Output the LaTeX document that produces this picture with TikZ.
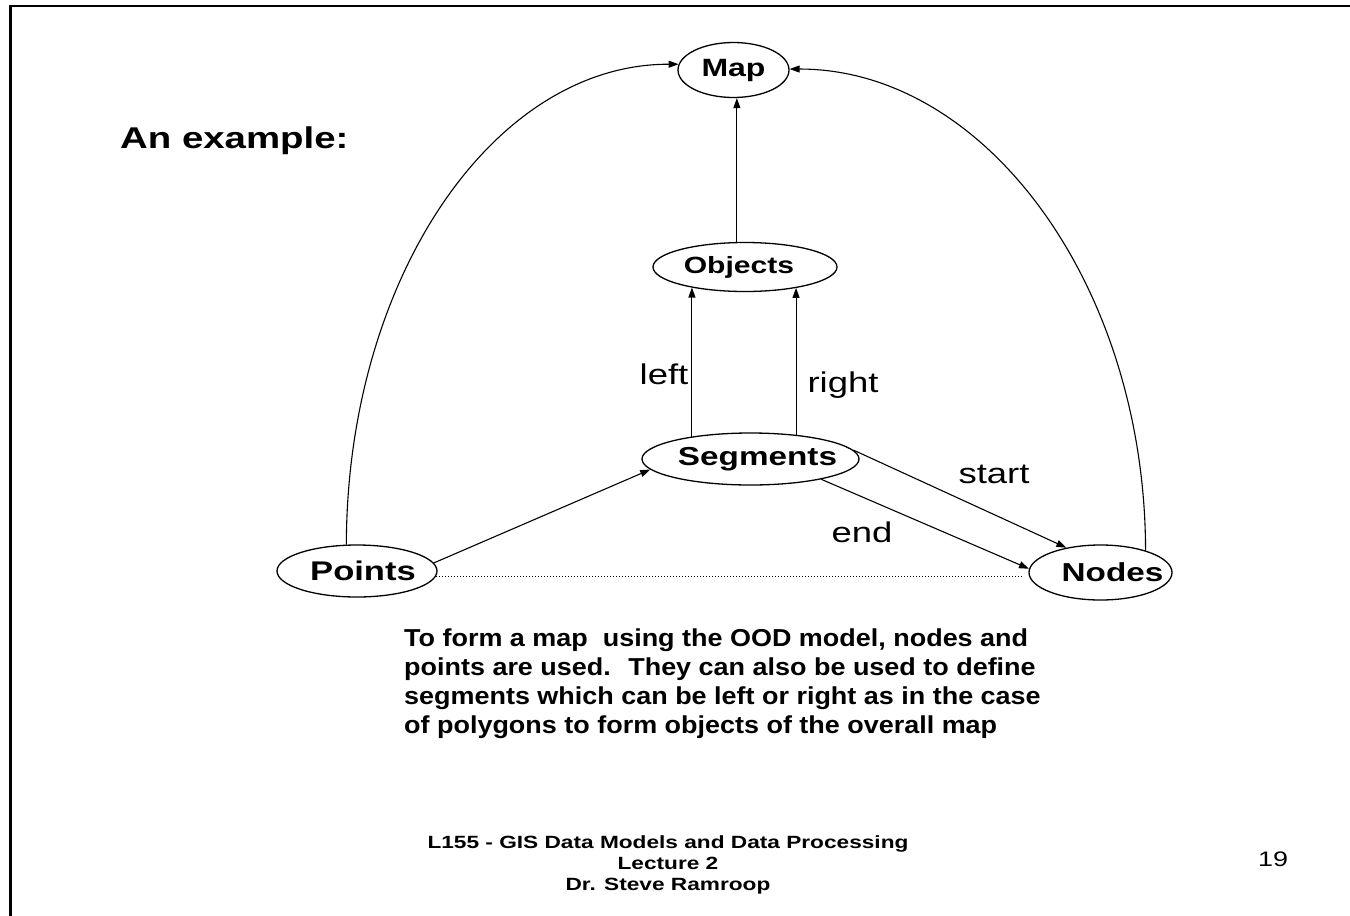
\documentclass[tikz,border=0pt]{standalone}
\usepackage{fontspec}
\setmainfont{Liberation Sans}[FakeStretch=1.28]
\newfontfamily\parafont{Liberation Sans}[FakeStretch=1.1]
\usetikzlibrary{shapes.geometric,arrows.meta}
\newcommand\fsz[2]{\fontsize{#1}{#2}\selectfont}
\begin{document}
\begin{tikzpicture}[x=1pt,y=-1pt,
  ell/.style={draw, ellipse, inner sep=0pt, line width=1.3pt},
  conn/.style={line width=1.1pt, -{Triangle[length=10pt,width=7pt]}},
  lbl/.style={inner sep=0pt, font=\fsz{28.5}{34}},
  elltext/.style={font=\bfseries\fsz{#1}{#1}}
]
\useasboundingbox (0,0) rectangle (1350,916);
\draw[line width=2.6pt] (10.5,916) -- (10.5,6) -- (1350,6);

% title
\node[inner sep=0pt, anchor=base west, font=\bfseries\fsz{30}{36}] (title) at (120,148) {An example:};

% ellipses
\node[ell, elltext=25, minimum width=111pt, minimum height=55pt] (map) at (733.5,70) {\makebox[0pt]{Map}};
\node[ell, elltext=23.5, minimum width=184pt, minimum height=49pt] (objects) at (745,267) {\makebox[0pt]{\hspace*{-12pt}Objects}};
\node[ell, elltext=26, minimum width=217pt, minimum height=52pt] (segments) at (750.5,459) {\makebox[0pt]{\hspace*{14pt}Segments}};
\node[ell, elltext=27, minimum width=160pt, minimum height=52pt] (points) at (357,571) {\makebox[0pt]{\hspace*{12pt}Points}};
\node[ell, elltext=26, minimum width=143pt, minimum height=55pt] (nodes) at (1100.5,572.5) {\makebox[0pt]{\hspace*{24pt}Nodes}};

% connectors
\draw[conn] (objects.108) -- (objects.108 |- map.south);
\draw[conn] (segments.159) -- (segments.159 |- objects.201);
\draw[conn] (segments.28) -- (segments.28 |- objects.338);
\draw[conn] (points.6) -- (segments.186);
\draw[conn] (segments.5) -- (nodes.144);
\draw[conn] (segments.344) -- (nodes.177);
\draw[line width=1pt, dotted, shorten >=7pt] (points.356) -- (points.356 -| nodes.185);
\draw[conn] (points.112) .. controls (347,279) and (493,64) .. (map.174);
\draw[conn] (nodes.26) .. controls (1145,286) and (986,69) .. (map.1);

% edge labels
\node[lbl, anchor=base] (lleft) at (664,384) {left};
\node[lbl, anchor=base] (lright) at (843,392) {right};
\node[lbl, anchor=base] (lstart) at (994,483) {start};
\node[lbl, anchor=base] (lend) at (862,542) {end};

% paragraph (base = last line)
\node[inner sep=0pt, anchor=base west, align=left, font=\parafont\bfseries\fsz{24.5}{28.7}] (para) at (404,733)
 {To form a map~ using the OOD model, nodes and\\
  points are used.~ They can also be used to define\\
  segments which can be left or right as in the case\\
  of polygons to form objects of the overall map};

% footer
\node[inner sep=0pt, anchor=base, align=center, font=\bfseries\fsz{17.7}{21}] (footer) at (668,890)
 {L155 - GIS Data Models and Data Processing\\ Lecture 2\\ Dr. Steve Ramroop};
\node[inner sep=0pt, anchor=base west, font=\fsz{21}{25}] (pageno) at (1258,866) {19};
\end{tikzpicture}
\end{document}
